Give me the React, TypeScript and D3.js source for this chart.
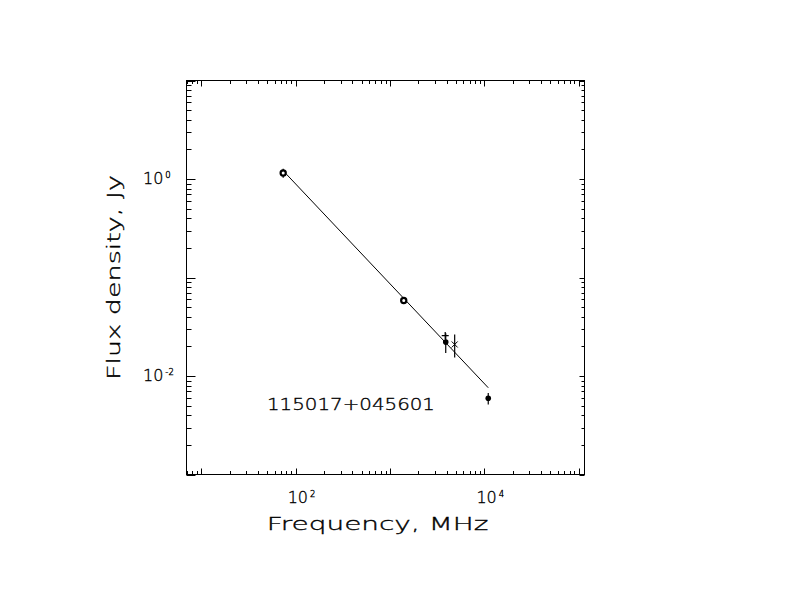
import { useEffect } from "react";
import * as d3 from "d3";

// measured flux densities (MHz, Jy)
const circleFreq = [74, 1400];
const circleFlux = [1.15, 0.0584];
const circleErr = [0.12, 0.002];

const dotFreq = [3900, 11000];
const dotFlux = [0.0221, 0.00594];
const dotErr = [0.005, 0.0008];

const crossFreq = [4850];
const crossFlux = [0.0209];
const crossErr = [0.0055];

const plusFreq = [3850];
const plusFlux = [0.0257];

// power-law fit end points
const fitFreq = [80, 11000];
const fitFlux = [1.12, 0.0076];

const SOURCE = "115017+045601";
const X_TITLE = "Frequency, MHz";
const Y_TITLE = "Flux density, Jy";
const xLabelDecades = [2, 4];
const yLabelDecades = [0, -2];

const BOX = { left: 186.5, right: 584.5, top: 80.5, bottom: 474.5 };
const FONT = "'DejaVu Sans', sans-serif";

// thin, Hershey-like lettering
const textStyle = {
  fontFamily: FONT,
  fontWeight: 200,
  fill: "#000",
  stroke: "#000",
  strokeWidth: 0.35,
};

export default function App() {
  useEffect(() => {
    document.body.style.margin = "0";
  }, []);

  const x = d3
    .scaleLog()
    .domain([10 ** 0.845, 10 ** 5.061])
    .range([BOX.left, BOX.right]);
  const y = d3.scaleLog().domain([1e-3, 10]).range([BOX.bottom, BOX.top]);

  const ticks = (scale: d3.ScaleLogarithmic<number, number>) => {
    const [d0, d1] = scale.domain();
    const out: { v: number; major: boolean }[] = [];
    for (let e = Math.floor(Math.log10(d0)); e <= Math.ceil(Math.log10(d1)); e++) {
      for (let m = 1; m <= 9; m++) {
        const v = m * 10 ** e;
        if (v >= d0 * 0.999 && v <= d1 * 1.001) out.push({ v, major: m === 1 });
      }
    }
    return out;
  };
  const xt = ticks(x);
  const yt = ticks(y);

  const line = d3
    .line<number>()
    .x((_, i) => x(fitFreq[i]))
    .y((d) => y(d));

  const stroke = "#000";

  return (
    <svg width={792} height={612} style={{ display: "block", background: "#fff" }}>
      {/* frame */}
      <rect
        x={BOX.left}
        y={BOX.top}
        width={BOX.right - BOX.left}
        height={BOX.bottom - BOX.top}
        fill="none"
        stroke={stroke}
        strokeWidth={1}
      />
      {/* x ticks */}
      {xt.map((t, i) => {
        const px = Math.round(x(t.v)) + 0.5;
        const len = t.major ? 6 : 3.5;
        return (
          <g key={"xt" + i} stroke={stroke} strokeWidth={1}>
            <line x1={px} x2={px} y1={BOX.bottom} y2={BOX.bottom - len} />
            <line x1={px} x2={px} y1={BOX.top} y2={BOX.top + len} />
          </g>
        );
      })}
      {/* y ticks */}
      {yt.map((t, i) => {
        const py = Math.round(y(t.v)) + 0.5;
        return (
          <g key={"yt" + i} stroke={stroke} strokeWidth={1}>
            <line x1={BOX.left} x2={BOX.left + (t.major ? 9 : 5)} y1={py} y2={py} />
            <line x1={BOX.right} x2={BOX.right - (t.major ? 5 : 3)} y1={py} y2={py} />
          </g>
        );
      })}
      {/* x tick labels */}
      {xLabelDecades.map((e) => (
        <text
          key={"xl" + e}
          x={x(10 ** e) + 6}
          y={BOX.bottom + 28.5}
          textAnchor="middle"
          fontSize={16}
          {...textStyle}
        >
          10
          <tspan fontSize={8.5} dx={2} dy={-6}>
            {e}
          </tspan>
        </text>
      ))}
      {/* y tick labels */}
      {yLabelDecades.map((e) => (
        <text
          key={"yl" + e}
          x={BOX.left - 43.5}
          y={y(10 ** e) + 5}
          textAnchor="start"
          fontSize={16}
          {...textStyle}
        >
          10
          <tspan fontSize={8.5} dx={2} dy={-6}>
            {e < 0 ? "-" + Math.abs(e) : e}
          </tspan>
        </text>
      ))}
      {/* axis titles */}
      <text
        x={266.7}
        y={530}
        textLength={221.7}
        lengthAdjust="spacingAndGlyphs"
        fontSize={18.5}
        {...textStyle}
      >
        {X_TITLE}
      </text>
      <text
        transform={`translate(120,380) rotate(-90)`}
        textLength={205}
        lengthAdjust="spacingAndGlyphs"
        fontSize={18.5}
        {...textStyle}
      >
        {Y_TITLE}
      </text>
      {/* source name */}
      <text
        x={267}
        y={410}
        textLength={168}
        lengthAdjust="spacingAndGlyphs"
        fontSize={16.5}
        {...textStyle}
      >
        {SOURCE}
      </text>

      {/* fit */}
      <path d={line(fitFlux) ?? ""} fill="none" stroke={stroke} strokeWidth={1} />

      {/* error bars */}
      {circleFreq.map((f, i) => (
        <line
          key={"ce" + i}
          x1={x(f)}
          x2={x(f)}
          y1={y(circleFlux[i] + circleErr[i])}
          y2={y(circleFlux[i] - circleErr[i])}
          stroke={stroke}
          strokeWidth={1.2}
        />
      ))}
      {dotFreq.map((f, i) => (
        <line
          key={"de" + i}
          x1={x(f)}
          x2={x(f)}
          y1={y(dotFlux[i] + dotErr[i])}
          y2={y(dotFlux[i] - dotErr[i])}
          stroke={stroke}
          strokeWidth={1.2}
        />
      ))}
      {crossFreq.map((f, i) => (
        <line
          key={"xe" + i}
          x1={x(f)}
          x2={x(f)}
          y1={y(crossFlux[i] + crossErr[i])}
          y2={y(crossFlux[i] - crossErr[i])}
          stroke={stroke}
          strokeWidth={1.2}
        />
      ))}

      {/* markers */}
      {circleFreq.map((f, i) => (
        <circle
          key={"c" + i}
          cx={x(f)}
          cy={y(circleFlux[i])}
          r={2.6}
          fill="#fff"
          stroke={stroke}
          strokeWidth={2.2}
        />
      ))}
      {dotFreq.map((f, i) => (
        <circle key={"d" + i} cx={x(f)} cy={y(dotFlux[i])} r={2.8} fill={stroke} />
      ))}
      {crossFreq.map((f, i) => {
        const cx = x(f);
        const cy = y(crossFlux[i]);
        const s = 3;
        return (
          <path
            key={"x" + i}
            d={`M${cx - s},${cy - s}L${cx + s},${cy + s}M${cx - s},${cy + s}L${cx + s},${cy - s}`}
            stroke={stroke}
            strokeWidth={1}
          />
        );
      })}
      {plusFreq.map((f, i) => {
        const cx = x(f);
        const cy = y(plusFlux[i]);
        const s = 3.5;
        return (
          <path
            key={"p" + i}
            d={`M${cx - s},${cy}L${cx + s},${cy}M${cx},${cy - s}L${cx},${cy + s}`}
            stroke={stroke}
            strokeWidth={1.2}
          />
        );
      })}
    </svg>
  );
}
